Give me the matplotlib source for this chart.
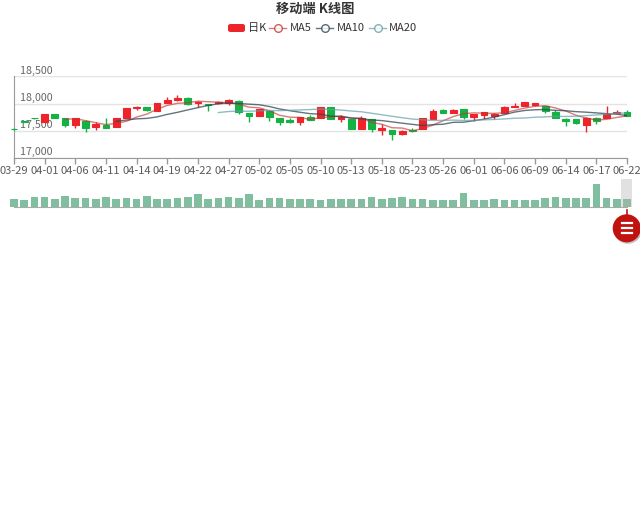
import matplotlib
matplotlib.use("Agg")
import matplotlib.pyplot as plt
from matplotlib.patches import Rectangle, Circle, FancyBboxPatch
from matplotlib.lines import Line2D
import numpy as np
import pandas as pd

plt.rcParams['font.family'] = ['Noto Sans CJK SC', 'DejaVu Sans']

dates = ["03-29", "03-30", "03-31", "04-01", "04-04", "04-05", "04-06", "04-07", "04-08", "04-11",
         "04-12", "04-13", "04-14", "04-15", "04-18", "04-19", "04-20", "04-21", "04-22", "04-25",
         "04-26", "04-27", "04-28", "04-29", "05-02", "05-03", "05-04", "05-05", "05-06", "05-09",
         "05-10", "05-11", "05-12", "05-13", "05-16", "05-17", "05-18", "05-19", "05-20", "05-23",
         "05-24", "05-25", "05-26", "05-27", "05-31", "06-01", "06-02", "06-03", "06-06", "06-07",
         "06-08", "06-09", "06-10", "06-13", "06-14", "06-15", "06-16", "06-17", "06-20", "06-21",
         "06-22"]
opens = [17540, 17680, 17738, 17660, 17807, 17733, 17610, 17689, 17579, 17610,
         17580, 17745, 17912, 17935, 17868, 18020, 18064, 18110, 18009, 17990,
         18005, 18020, 18050, 17825, 17781, 17873, 17733, 17695, 17660, 17763,
         17733, 17930, 17720, 17720, 17536, 17720, 17512, 17518, 17440, 17524,
         17536, 17720, 17890, 17831, 17904, 17757, 17795, 17781, 17831, 17945,
         17954, 17980, 17954, 17843, 17726, 17720, 17610, 17744, 17745, 17825,
         17855]
closes = [17532, 17670, 17728, 17807, 17744, 17610, 17733, 17549, 17623, 17560,
          17733, 17917, 17940, 17892, 18015, 18075, 18110, 17990, 18039, 17968,
          18030, 18065, 17845, 17775, 17904, 17752, 17660, 17672, 17752, 17707,
          17941, 17715, 17757, 17536, 17733, 17536, 17549, 17440, 17505, 17490,
          17733, 17868, 17837, 17891, 17752, 17807, 17843, 17818, 17947, 17960,
          18028, 18005, 17873, 17739, 17685, 17641, 17744, 17684, 17812, 17855,
          17781]
lows = [17525, 17665, 17720, 17650, 17730, 17575, 17549, 17487, 17518, 17555,
        17570, 17740, 17890, 17870, 17860, 18010, 18050, 17980, 17947, 17870,
        17985, 17975, 17810, 17660, 17775, 17690, 17615, 17640, 17610, 17696,
        17728, 17710, 17665, 17530, 17530, 17481, 17426, 17335, 17430, 17485,
        17530, 17715, 17830, 17825, 17720, 17690, 17710, 17725, 17825, 17940,
        17950, 17960, 17830, 17735, 17597, 17635, 17475, 17625, 17740, 17820,
        17776]
highs = [17545, 17690, 17745, 17815, 17812, 17740, 17740, 17695, 17671, 17735,
         17745, 17925, 17960, 17940, 18020, 18120, 18165, 18115, 18050, 17995,
         18055, 18090, 18060, 17830, 17910, 17880, 17740, 17733, 17758, 17790,
         17945, 17935, 17790, 17725, 17770, 17725, 17623, 17522, 17520, 17545,
         17745, 17900, 17895, 17895, 17910, 17812, 17848, 17822, 17952, 18009,
         18035, 18010, 17958, 17880, 17730, 17725, 17748, 17748, 17954, 17880,
         17880]
volumes = [96, 88, 116, 116, 96, 128, 112, 104, 92, 116,
           92, 104, 96, 128, 100, 100, 112, 116, 152, 96,
           104, 120, 112, 152, 88, 104, 104, 92, 92, 100,
           84, 100, 100, 100, 100, 116, 92, 104, 124, 100,
           100, 88, 80, 80, 164, 88, 84, 92, 80, 88,
           80, 80, 104, 116, 104, 104, 104, 272, 112, 92,
           96]
ma_days = [5, 10, 20]
ma_names = ["MA5", "MA10", "MA20"]

UP = "#ef232a"
DOWN = "#14b143"
VOLC = "#7fbe9e"
MA_COLORS = ["#c23531", "#2f4554", "#61a0a8"]
MA_ALPHA = [0.65, 0.75, 0.7]
W, H = 640, 531


def px(x, y):
    return x / W, 1 - y / H


fig = plt.figure(figsize=(6.4, 5.31), dpi=100)

# --- main candlestick panel
x0, y0 = px(14, 158.2)
x1, y1 = px(627, 76.4)
ax = fig.add_axes([x0, y0, x1 - x0, y1 - y0])
x = np.arange(len(dates))
o = np.array(opens, float)
c = np.array(closes, float)
cols = np.where(c >= o, UP, DOWN)
ax.vlines(x, lows, highs, colors=cols, lw=1, clip_on=False, zorder=3)
ax.bar(x, c - o, bottom=o, width=0.66, color=cols, edgecolor=cols, lw=0.8,
       clip_on=False, zorder=4)

# moving averages of the closes, blank for the first n days (as the chart does)
cs = pd.Series(closes, dtype=float)
for n, col, al in zip(ma_days, MA_COLORS, MA_ALPHA):
    ma = cs.rolling(n).mean()
    ma.iloc[:n] = np.nan
    ax.plot(x, ma, color=col, lw=1, alpha=al, zorder=5)

ax.set_xlim(0, 60)
ax.set_ylim(17000, 18500)
yt = [17000, 17500, 18000, 18500]
ax.set_yticks(yt)
ax.set_yticklabels([])
ax.tick_params(axis="y", length=0)
ax.grid(axis="y", color="#e3e3e3", lw=1)
ax.set_axisbelow(True)
for v in yt:
    ax.annotate(f"{v:,}", xy=(0, v), xycoords=("axes fraction", "data"),
                xytext=(4.5, 4.2), textcoords="offset points", va="center",
                ha="left", fontsize=7.7, color="#666")
ax.set_xticks(x[::3])
ax.set_xticklabels(dates[::3])
ax.tick_params(axis="x", length=4, width=1, color="#999", labelsize=8,
               labelcolor="#5a5a5a", pad=1.5)
for s in ["top", "right"]:
    ax.spines[s].set_visible(False)
ax.spines["left"].set_color("#999")
ax.spines["bottom"].set_color("#999")

# --- volume panel
vx0, vy0 = px(14, 207)
vx1, vy1 = px(627, 180)
axv = fig.add_axes([vx0, vy0, vx1 - vx0, vy1 - vy0])
axv.bar(x, volumes, width=0.75, color=VOLC, clip_on=False)
axv.set_xlim(0, 60)
axv.set_ylim(0, 324)
for s in ["top", "right", "left"]:
    axv.spines[s].set_visible(False)
axv.spines["bottom"].set_color("#aaa")
axv.set_xticks([])
axv.set_yticks([])
axv.patch.set_alpha(0)

# dataZoom filler + handle
rx0, ry0 = px(620.7, 207)
rx1, ry1 = px(631.7, 179)
fig.add_artist(Rectangle((rx0, ry0), rx1 - rx0, ry1 - ry0, transform=fig.transFigure,
                         facecolor="#b4b4b4", alpha=0.4, edgecolor="none", zorder=6))
hx, hy, hr = 626.7, 228.3, 14
fig.add_artist(Line2D([hx / W, hx / W], [1 - 210 / H, 1 - 216 / H], transform=fig.transFigure,
                      color="#c1120f", lw=1.2, zorder=6))
fig.add_artist(Circle(((hx + 1.2) / 100, (H - hy - 1.5) / 100), hr / 100,
                      transform=fig.dpi_scale_trans, facecolor="#000000", alpha=0.25,
                      edgecolor="none", zorder=6))
fig.add_artist(Circle((hx / 100, (H - hy) / 100), hr / 100, transform=fig.dpi_scale_trans,
                      facecolor="#c1120f", edgecolor="none", zorder=7))
for yy in (223.3, 228.3, 233.3):
    fig.add_artist(Line2D([621.7 / W, 631.7 / W], [1 - yy / H, 1 - yy / H],
                          transform=fig.transFigure, color="white", lw=1.6, zorder=8))

# --- title and legend
fig.text(315 / W, 1 - 9 / H, "移动端 K线图", ha="center", va="center", fontsize=9.5,
         fontweight="bold", color="#333")
lx0, ly0 = px(228, 32)
lx1, ly1 = px(245, 24)
fig.add_artist(FancyBboxPatch((lx0, ly0), lx1 - lx0, ly1 - ly0,
                              boxstyle="round,pad=0,rounding_size=0.004",
                              transform=fig.transFigure, facecolor=UP, edgecolor="none"))
fig.text(248 / W, 1 - 28 / H, "日K", ha="left", va="center", fontsize=8, color="#333")
icon_x = [269, 316, 369]
text_x = [290, 337, 389]
for ix, tx, name, col, al in zip(icon_x, text_x, ma_names, MA_COLORS, MA_ALPHA):
    fig.add_artist(Line2D([ix / W, (ix + 17) / W], [1 - 28 / H] * 2, transform=fig.transFigure,
                          color=col, lw=1, alpha=al))
    fig.add_artist(Line2D([(ix + 8.5) / W], [1 - 28 / H], transform=fig.transFigure,
                          marker="o", ms=5.5, mfc="white", mec=col, mew=1, alpha=0.8))
    fig.text(tx / W, 1 - 28 / H, name, ha="left", va="center", fontsize=8, color="#333")

fig.savefig("out.png", dpi=100)
